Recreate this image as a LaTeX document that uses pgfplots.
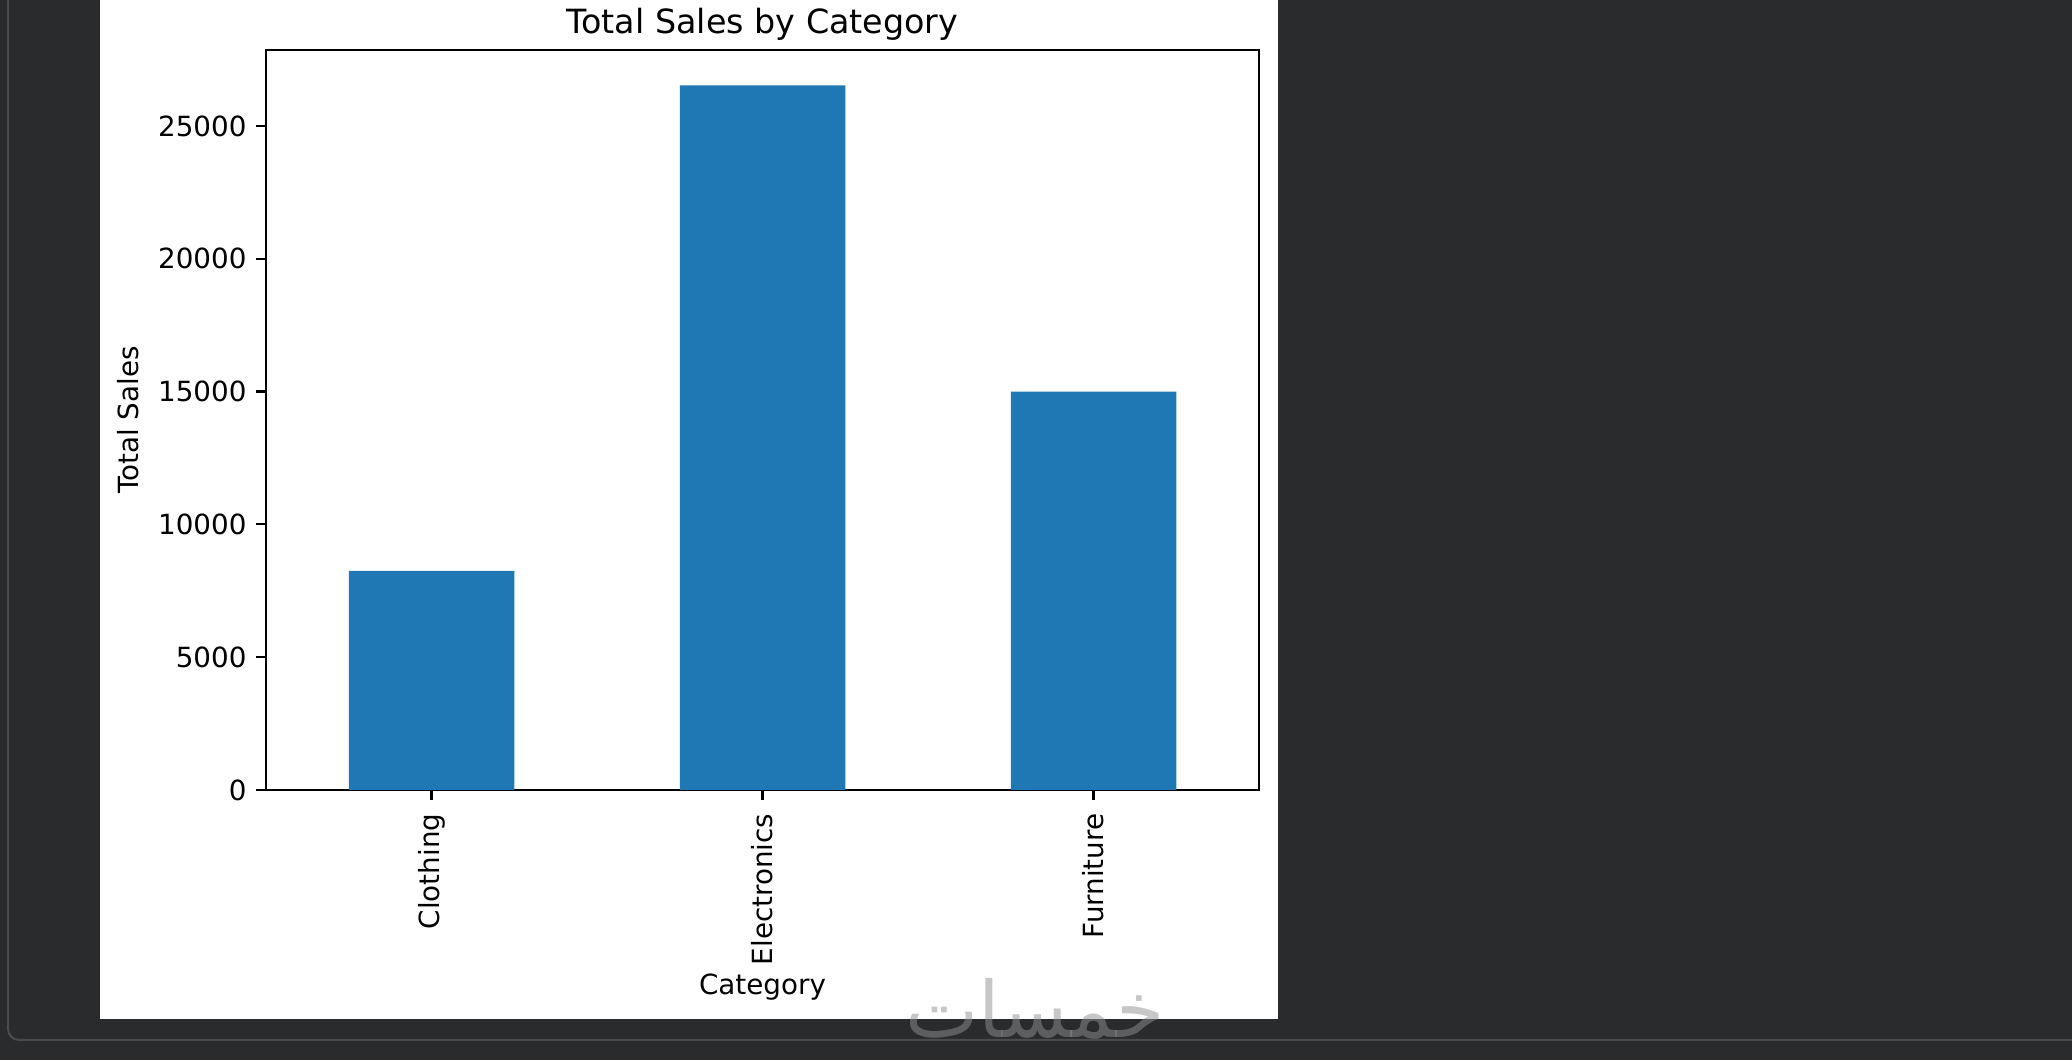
\documentclass[border=0pt]{standalone}
\usepackage{fontspec}
\setmainfont{DejaVu Sans}
\newfontfamily\arabicfont[Script=Arabic]{DejaVu Sans}
\TeXXeTstate=1
\usepackage{pgfplots}
\usepackage{pgfplotstable}
\pgfplotsset{compat=1.18}

\definecolor{panelbg}{HTML}{2A2B2D}
\definecolor{framecol}{HTML}{4A4B4D}
\definecolor{barblue}{HTML}{1F77B4}

% total sales per category (x = position 0,1,2)
\pgfplotstableread{
x y
0 8250
1 26530
2 15000
}\salesdata

\begin{document}
\begin{tikzpicture}
\path[use as bounding box] (0,0) rectangle (745.92pt,381.6pt);
% background in pixel units (1px = 0.36pt), y measured from the bottom
\begin{scope}[x=0.36pt,y=0.36pt]
  \fill[panelbg] (0,0) rectangle (2072,1060);
  \begin{scope}
    \clip (0,0) rectangle (2072,1060);
    \draw[framecol, line width=0.72pt, rounded corners=4pt] (8,1100) |- (2120,20);
  \end{scope}
  \fill[white] (100,41) rectangle (1278,1060);
\end{scope}

\begin{axis}[
  at={(95.76pt,97.2pt)}, anchor=south west,
  width=357.48pt, height=266.4pt, scale only axis,
  xmin=-0.5, xmax=2.5, ymin=0, ymax=27860,
  ybar, bar width=0.5,
  xtick={0,1,2}, xticklabels={Clothing,Electronics,Furniture},
  ytick={0,5000,10000,15000,20000,25000},
  scaled y ticks=false,
  /pgf/number format/assume math mode=true,
  /pgf/number format/1000 sep={},
  axis line style={black, line width=0.8pt},
  tick align=outside, xtick pos=bottom, ytick pos=left,
  major tick length=3.5pt,
  every tick/.style={black, line width=0.8pt},
  tick label style={font=\fontsize{10}{12}\selectfont},
  xticklabel style={rotate=90, anchor=east},
  xticklabel shift=1.5pt,
  title={Total Sales by Category},
  title style={anchor=base, inner sep=0pt, font=\fontsize{12}{14}\selectfont},
  xlabel={Category}, ylabel={Total Sales},
  label style={font=\fontsize{10}{12}\selectfont},
  xlabel style={yshift=3.8pt},
]
\addplot[fill=barblue, draw=none] table[x=x, y=y] {\salesdata};
\end{axis}

% watermark
\node[text=white!57!black, opacity=0.5, font=\fontsize{28}{32}\selectfont\arabicfont]
  at (372.6pt,18.4pt) {\beginR خمسات\endR};
\end{tikzpicture}
\end{document}
